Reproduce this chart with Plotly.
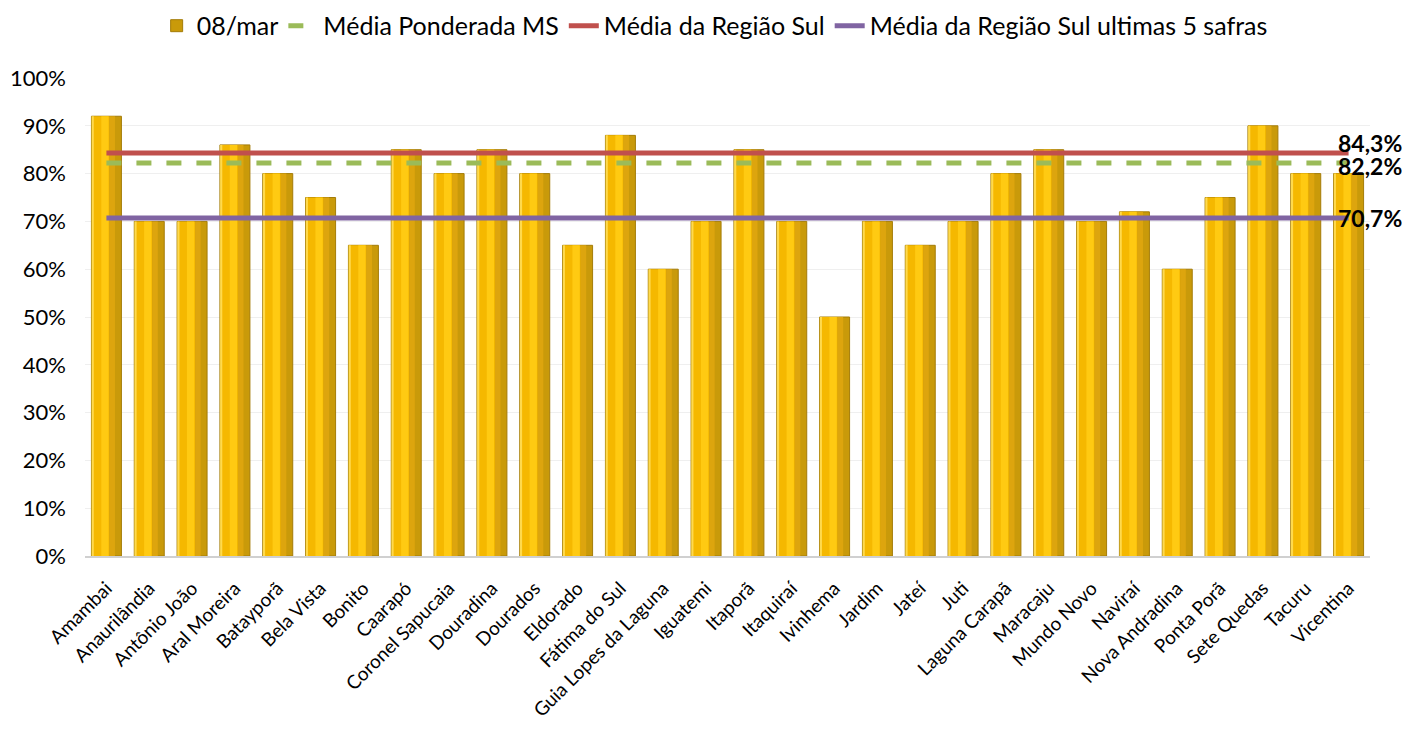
import plotly.graph_objects as go

# municípios e % (08/mar)
municipios = [
    "Amambai", "Anaurilândia", "Antônio João", "Aral Moreira", "Batayporã",
    "Bela Vista", "Bonito", "Caarapó", "Coronel Sapucaia", "Douradina",
    "Dourados", "Eldorado", "Fátima do Sul", "Guia Lopes da Laguna", "Iguatemi",
    "Itaporã", "Itaquiraí", "Ivinhema", "Jardim", "Jateí", "Juti",
    "Laguna Carapã", "Maracaju", "Mundo Novo", "Naviraí", "Nova Andradina",
    "Ponta Porã", "Sete Quedas", "Tacuru", "Vicentina",
]
valores_08mar = [
    0.92, 0.70, 0.70, 0.86, 0.80, 0.75, 0.65, 0.85, 0.80, 0.85,
    0.80, 0.65, 0.88, 0.60, 0.70, 0.85, 0.70, 0.50, 0.70, 0.65, 0.70,
    0.80, 0.85, 0.70, 0.72, 0.60, 0.75, 0.90, 0.80, 0.80,
]
media_ponderada_ms = 0.822
media_regiao_sul = 0.843
media_sul_5_safras = 0.707

FONT = "Lato, 'Open Sans', sans-serif"

fig = go.Figure()

# barra base (ocre) + faixas sobrepostas para imitar o degradê
fig.add_trace(go.Bar(
    x=municipios, y=valores_08mar, name="08/mar",
    width=0.7, offset=-0.35,
    marker=dict(color="#C99A0A", line=dict(color="#A47C08", width=1)),
    hoverinfo="y+x",
))
faixas = [
    # (offset, largura, cor)
    (-0.33, 0.40, "#F5B800"),
    (0.07, 0.13, "#DDA50E"),
    (-0.12, 0.17, "#FFCA12"),
    (-0.345, 0.05, "#FFDA4D"),
]
for off, w, cor in faixas:
    fig.add_trace(go.Bar(
        x=municipios, y=valores_08mar, width=w, offset=off,
        marker=dict(color=cor, line=dict(width=0)),
        showlegend=False, hoverinfo="skip",
    ))

ends = [municipios[0], municipios[-1]]
fig.add_trace(go.Scatter(
    x=ends, y=[media_ponderada_ms] * 2, mode="lines", name="Média Ponderada MS",
    line=dict(color="#9BBB59", width=5, dash="dash"),
))
fig.add_trace(go.Scatter(
    x=ends, y=[media_regiao_sul] * 2, mode="lines", name="Média da Região Sul",
    line=dict(color="#C0504D", width=5),
))
fig.add_trace(go.Scatter(
    x=ends, y=[media_sul_5_safras] * 2, mode="lines",
    name="Média da Região Sul ultimas 5 safras",
    line=dict(color="#8064A2", width=5),
))

for val, shift in [(media_regiao_sul, 10), (media_ponderada_ms, -3), (media_sul_5_safras, 0)]:
    fig.add_annotation(
        x=municipios[-1], y=val, text=f"{val * 100:.1f}%".replace(".", ","),
        showarrow=False, xanchor="left", xshift=-13, yshift=shift,
        font=dict(family=FONT, size=23, color="black", weight="bold"),
    )

# a página tem margem de 8px no body, por isso 1394x717
fig.update_layout(
    barmode="overlay",
    width=1394, height=717,
    margin=dict(l=77, r=32, t=70, b=169),
    paper_bgcolor="white", plot_bgcolor="white",
    font=dict(family=FONT, size=22, color="black"),
    legend=dict(
        orientation="h", x=0.49, xanchor="center", y=0.975, yanchor="middle",
        yref="container", font=dict(size=25), traceorder="normal",
    ),
    showlegend=True,
)
fig.update_yaxes(
    range=[0, 1.0], tickvals=[i / 10 for i in range(11)], tickformat=".0%",
    showgrid=True, gridcolor="#EFEFEF", zeroline=False,
    showline=False, ticks="", tickfont=dict(size=22), automargin=False,
    ticklabelstandoff=18,
)
fig.update_xaxes(
    tickangle=-45, showline=True, linecolor="#D0D0D0", linewidth=1.5,
    tickfont=dict(size=19), range=[-0.5, len(municipios) - 0.5],
    automargin=False, ticklabelstandoff=12,
)

fig.write_html("out.html")
